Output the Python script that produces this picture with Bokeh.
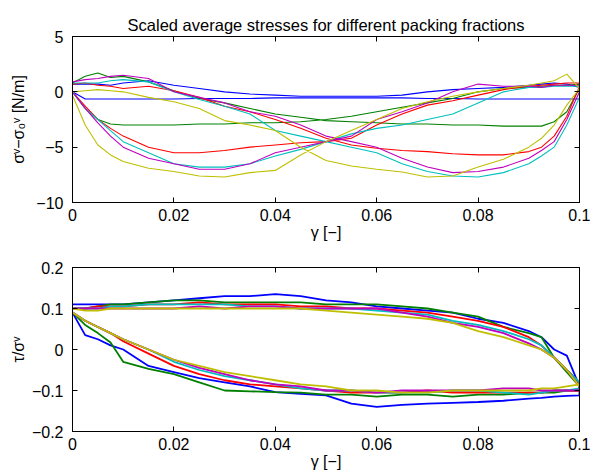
from bokeh.plotting import figure
from bokeh.layouts import column
from bokeh.models import FixedTicker, LinearAxis, Range1d
from bokeh.embed import file_html
from bokeh.resources import INLINE

# strain grid (gamma) shared by all branches
GAMMA = [0, 0.0025, 0.005, 0.0075, 0.01, 0.015, 0.02, 0.025, 0.03, 0.035, 0.04,
         0.045, 0.05, 0.055, 0.06, 0.065, 0.07, 0.075, 0.08, 0.085, 0.09,
         0.0925, 0.095, 0.0975, 0.1]

SERIES_COLORS = ["#0000FF", "#008000", "#FF0000", "#00BFBF", "#BF00BF", "#BFBF00"]

# --- top panel: sigma^v - sigma_0^v [N/m], branch A (forward) and branch B (return)
blue_sig_a = [0.7, 0.7, 0.7, 0.6, 0.8, 1.0, 0.6, 0.3, 0.0, -0.2, -0.3, -0.4, -0.4, -0.4, -0.4, -0.3, 0.0, 0.2, 0.3, 0.4, 0.6, 0.7, 0.8, 0.7, 0.4]
blue_sig_b = [0.0, -0.65, -0.65, -0.65, -0.65, -0.65, -0.65, -0.6, -0.6, -0.6, -0.55, -0.55, -0.55, -0.55, -0.55, -0.55, -0.6, -0.6, -0.65, -0.65, -0.65, -0.65, -0.65, -0.65, -0.65]
green_sig_a = [0.8, 1.4, 1.7, 1.3, 1.4, 0.9, 0.1, -0.6, -1.0, -1.5, -2.0, -2.3, -2.6, -2.7, -2.8, -2.9, -2.9, -3.0, -3.0, -3.1, -3.1, -3.1, -2.7, -1.8, 0.3]
green_sig_b = [0.0, -1.5, -2.5, -2.9, -3.0, -3.0, -3.0, -2.9, -2.9, -2.8, -2.8, -2.7, -2.5, -2.2, -1.8, -1.4, -1.0, -0.6, 0.0, 0.3, 0.4, 0.5, 0.6, 0.6, 0.7]
red_sig_a = [0.7, 0.8, 0.6, 0.5, 0.3, 0.5, 0.1, -0.5, -1.3, -1.8, -2.5, -3.3, -4.2, -4.8, -5.1, -5.3, -5.4, -5.6, -5.7, -5.7, -5.4, -5.0, -4.0, -2.2, 0.5]
red_sig_b = [0.0, -1.3, -2.5, -3.3, -4.0, -5.0, -5.5, -5.5, -5.3, -5.0, -4.8, -4.6, -4.5, -4.2, -3.0, -2.0, -1.2, -0.8, -0.3, 0.2, 0.5, 0.6, 0.7, 0.8, 0.8]
cyan_sig_a = [0.8, 0.8, 0.8, 1.0, 1.1, 0.9, 0.0, -0.7, -1.3, -2.0, -3.5, -4.0, -4.5, -5.0, -5.5, -6.5, -7.2, -7.6, -7.7, -7.3, -6.5, -5.8, -5.0, -3.0, -0.5]
cyan_sig_b = [0.0, -1.5, -2.5, -3.5, -4.5, -5.5, -6.5, -6.8, -6.8, -6.5, -5.8, -5.2, -4.5, -3.8, -3.3, -3.0, -2.5, -2.0, -1.0, 0.0, 0.4, 0.4, 0.5, 0.5, 0.5]
magenta_sig_a = [0.9, 1.1, 1.2, 1.4, 1.5, 1.2, 0.0, -0.5, -1.0, -1.8, -2.2, -3.0, -4.0, -4.5, -5.0, -6.0, -6.8, -7.3, -7.2, -6.8, -6.0, -5.3, -4.5, -2.5, 0.0]
magenta_sig_b = [0.0, -1.5, -2.8, -4.0, -5.0, -6.0, -6.5, -7.0, -7.0, -6.5, -5.5, -5.0, -4.5, -4.0, -2.5, -1.8, -1.0, 0.0, 0.7, 0.5, 0.5, 0.4, 0.6, 0.6, 0.6]
yellow_sig_a = [0.0, 0.1, 0.2, 0.1, 0.0, -0.5, -0.9, -1.5, -2.6, -3.0, -3.5, -5.0, -6.2, -6.7, -7.0, -7.25, -7.7, -7.6, -6.8, -6.1, -5.0, -4.2, -3.0, -1.2, 0.3]
yellow_sig_b = [-0.3, -3.0, -4.8, -5.7, -6.3, -6.9, -7.2, -7.6, -7.7, -7.3, -7.1, -5.7, -4.5, -3.5, -2.5, -1.5, -0.9, -0.4, 0.0, 0.3, 0.6, 0.8, 1.0, 1.6, 0.3]

# --- bottom panel: tau / sigma^v, upper and lower branch
blue_tau_u = [0.11, 0.11, 0.11, 0.11, 0.11, 0.115, 0.12, 0.125, 0.13, 0.13, 0.135, 0.13, 0.12, 0.115, 0.105, 0.1, 0.095, 0.09, 0.075, 0.065, 0.045, 0.03, 0.0, -0.015, -0.09]
blue_tau_l = [0.09, 0.035, 0.025, 0.01, 0.0, -0.04, -0.055, -0.07, -0.08, -0.09, -0.104, -0.108, -0.112, -0.132, -0.14, -0.135, -0.132, -0.13, -0.128, -0.125, -0.12, -0.118, -0.115, -0.113, -0.112]
green_tau_u = [0.1, 0.1, 0.105, 0.11, 0.11, 0.115, 0.12, 0.12, 0.115, 0.115, 0.115, 0.115, 0.11, 0.11, 0.11, 0.105, 0.1, 0.09, 0.08, 0.055, 0.04, 0.03, -0.02, -0.055, -0.09]
green_tau_l = [0.09, 0.06, 0.04, 0.017, -0.03, -0.047, -0.06, -0.08, -0.1, -0.102, -0.104, -0.105, -0.11, -0.11, -0.115, -0.11, -0.11, -0.115, -0.11, -0.11, -0.105, -0.105, -0.105, -0.1, -0.1]
red_tau_u = [0.1, 0.1, 0.105, 0.105, 0.105, 0.11, 0.11, 0.115, 0.11, 0.11, 0.11, 0.105, 0.105, 0.1, 0.1, 0.095, 0.09, 0.08, 0.07, 0.055, 0.03, 0.01, -0.02, -0.05, -0.08]
red_tau_l = [0.09, 0.07, 0.055, 0.04, 0.02, -0.01, -0.04, -0.06, -0.075, -0.085, -0.09, -0.095, -0.1, -0.105, -0.105, -0.105, -0.1, -0.105, -0.105, -0.105, -0.105, -0.105, -0.1, -0.1, -0.1]
cyan_tau_u = [0.1, 0.1, 0.1, 0.105, 0.105, 0.11, 0.11, 0.11, 0.11, 0.105, 0.105, 0.1, 0.1, 0.1, 0.095, 0.09, 0.085, 0.07, 0.06, 0.045, 0.025, 0.01, -0.02, -0.05, -0.08]
cyan_tau_l = [0.09, 0.07, 0.055, 0.04, 0.025, 0.0, -0.03, -0.05, -0.065, -0.075, -0.085, -0.095, -0.1, -0.1, -0.105, -0.105, -0.105, -0.1, -0.1, -0.105, -0.11, -0.105, -0.1, -0.1, -0.095]
magenta_tau_u = [0.1, 0.1, 0.1, 0.1, 0.1, 0.1, 0.1, 0.105, 0.1, 0.105, 0.105, 0.1, 0.1, 0.1, 0.1, 0.09, 0.08, 0.065, 0.055, 0.04, 0.015, 0.0, -0.02, -0.05, -0.09]
magenta_tau_l = [0.09, 0.07, 0.055, 0.04, 0.025, 0.0, -0.025, -0.045, -0.06, -0.075, -0.085, -0.09, -0.1, -0.1, -0.105, -0.1, -0.1, -0.1, -0.1, -0.095, -0.095, -0.1, -0.1, -0.1, -0.1]
yellow_tau_u = [0.1, 0.095, 0.095, 0.1, 0.1, 0.1, 0.1, 0.1, 0.1, 0.1, 0.1, 0.1, 0.095, 0.09, 0.085, 0.08, 0.075, 0.065, 0.045, 0.03, 0.01, 0.0, -0.02, -0.05, -0.09]
yellow_tau_l = [0.09, 0.07, 0.055, 0.04, 0.025, 0.0, -0.025, -0.04, -0.055, -0.065, -0.075, -0.085, -0.09, -0.1, -0.1, -0.105, -0.105, -0.1, -0.1, -0.1, -0.1, -0.095, -0.095, -0.09, -0.085]

X_TICKS = [0, 0.02, 0.04, 0.06, 0.08, 0.1]
X_TICK_LABELS = ["0", "0.02", "0.04", "0.06", "0.08", "0.1"]
Y1_TICKS = [-10, -5, 0, 5]
Y1_TICK_LABELS = ["\u221210", "\u22125", "0", "5"]
Y2_TICKS = [-0.2, -0.1, 0, 0.1, 0.2]
Y2_TICK_LABELS = ["\u22120.2", "\u22120.1", "0", "0.1", "0.2"]

TITLE = "Scaled average stresses for different packing fractions"
XLABEL = "\u03b3 [\u2212]"
Y1LABEL = "\u03c3\u1d5b\u2212\u03c3\u2080\u1d5b [N/m]"
Y2LABEL = "\u03c4/\u03c3\u1d5b"

FONT = "Liberation Sans"
FS = "16px"

sig_a = [blue_sig_a, green_sig_a, red_sig_a, cyan_sig_a, magenta_sig_a, yellow_sig_a]
sig_b = [blue_sig_b, green_sig_b, red_sig_b, cyan_sig_b, magenta_sig_b, yellow_sig_b]
tau_u = [blue_tau_u, green_tau_u, red_tau_u, cyan_tau_u, magenta_tau_u, yellow_tau_u]
tau_l = [blue_tau_l, green_tau_l, red_tau_l, cyan_tau_l, magenta_tau_l, yellow_tau_l]


def style(p, yticks, ylabels, ylabel, ylabel_standoff):
    p.xgrid.visible = False
    p.ygrid.visible = False
    p.outline_line_color = "black"
    p.outline_line_width = 1
    p.outline_line_alpha = 1
    p.background_fill_color = "white"
    p.border_fill_color = "white"
    for ax in p.xaxis:
        ax.ticker = FixedTicker(ticks=X_TICKS)
        ax.major_label_overrides = {t: l for t, l in zip(X_TICKS, X_TICK_LABELS)}
        ax.axis_label = XLABEL
        ax.major_label_standoff = 6
        ax.axis_label_standoff = 0
    for ax in p.yaxis:
        ax.ticker = FixedTicker(ticks=yticks)
        ax.major_label_overrides = {t: l for t, l in zip(yticks, ylabels)}
        ax.axis_label = ylabel
        ax.major_label_standoff = 9
        ax.axis_label_standoff = ylabel_standoff
    for ax in list(p.xaxis) + list(p.yaxis):
        ax.major_tick_in = 5
        ax.major_tick_out = 0
        ax.minor_tick_in = 0
        ax.minor_tick_out = 0
        ax.axis_line_color = "black"
        ax.major_tick_line_color = "black"
        ax.major_label_text_font = FONT
        ax.major_label_text_font_size = FS
        ax.major_label_text_color = "black"
        ax.axis_label_text_font = FONT
        ax.axis_label_text_font_size = FS
        ax.axis_label_text_font_style = "normal"
        ax.axis_label_text_color = "black"
    # mirrored inward ticks on top and right (box on)
    top = LinearAxis(ticker=FixedTicker(ticks=X_TICKS), major_tick_in=5, major_tick_out=0,
                     minor_tick_in=0, minor_tick_out=0, major_label_text_font_size="0px",
                     major_label_text_color=None, major_label_standoff=0, axis_line_color="black")
    right = LinearAxis(ticker=FixedTicker(ticks=yticks), major_tick_in=5, major_tick_out=0,
                       minor_tick_in=0, minor_tick_out=0, major_label_text_font_size="0px",
                       major_label_text_color=None, major_label_standoff=0, axis_line_color="black")
    p.add_layout(top, "above")
    p.add_layout(right, "right")


p1 = figure(frame_width=507, frame_height=166, x_range=Range1d(0, 0.1), y_range=Range1d(-10, 5),
            output_backend="svg", toolbar_location=None,
            min_border_left=72, min_border_right=11, min_border_top=36, min_border_bottom=43)
p1.title.text = TITLE
p1.title.align = "center"
p1.title.text_font = FONT
p1.title.text_font_size = "16.5px"
p1.title.text_font_style = "normal"
p1.title.text_color = "black"
p1.title.standoff = 6
style(p1, Y1_TICKS, Y1_TICK_LABELS, Y1LABEL, 6)
for c, a, b in zip(SERIES_COLORS, sig_a, sig_b):
    xs = GAMMA + GAMMA[::-1]
    ys = a + b[::-1]
    p1.line(xs, ys, line_color=c, line_width=1.1)

p2 = figure(frame_width=507, frame_height=164, x_range=Range1d(0, 0.1), y_range=Range1d(-0.2, 0.2),
            output_backend="svg", toolbar_location=None,
            min_border_left=72, min_border_right=11, min_border_top=22, min_border_bottom=42)
style(p2, Y2_TICKS, Y2_TICK_LABELS, Y2LABEL, 2)
for c, u, l in zip(SERIES_COLORS, tau_u, tau_l):
    xs = GAMMA + GAMMA[::-1]
    ys = u + l[::-1]
    p2.line(xs, ys, line_color=c, line_width=1.8)

layout = column(p1, p2, spacing=0)
open("out.html", "w").write(file_html(layout, INLINE))
